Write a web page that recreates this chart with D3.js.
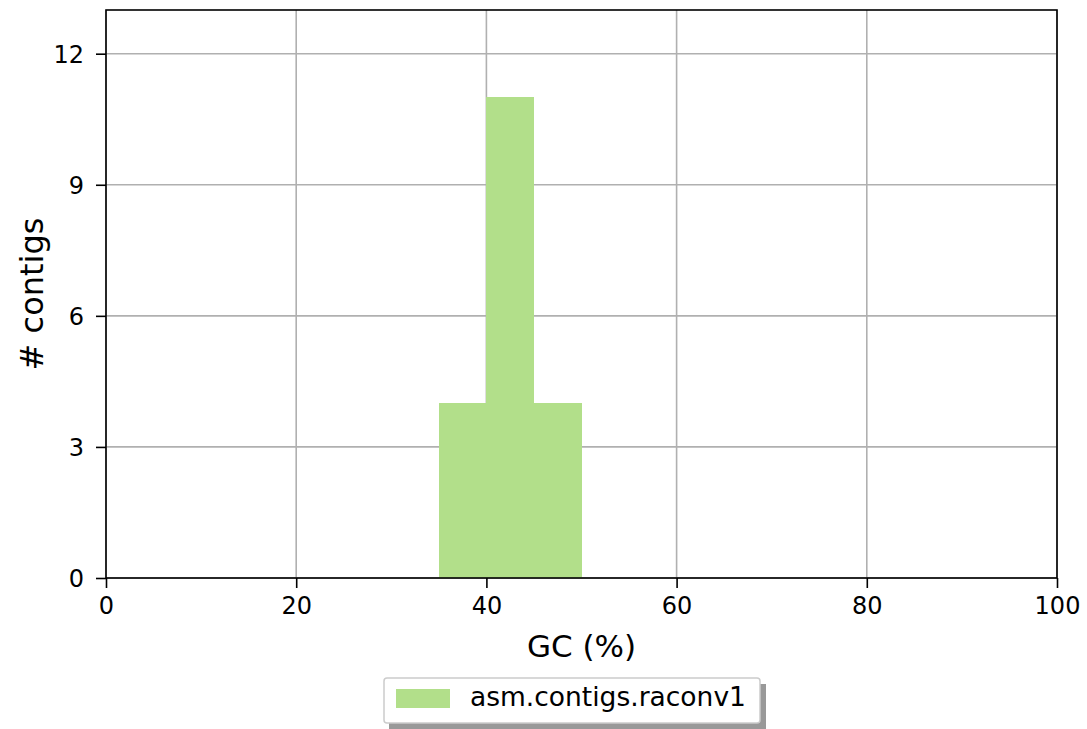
<!DOCTYPE html>
<html><head><meta charset="utf-8">
<script src="https://cdn.jsdelivr.net/npm/d3@7"></script>
<style>body{margin:0;background:#fff}svg{display:block}text{font-family:"DejaVu Sans",sans-serif}</style>
</head><body><svg id="c" width="1087" height="729"></svg>
<script>
const binStarts = [35, 40, 45];
const binWidth = 5;
const counts = [4, 11, 4];
const xTicks = [0, 20, 40, 60, 80, 100];
const yTicks = [0, 3, 6, 9, 12];
const seriesName = "asm.contigs.raconv1";
const xLabel = "GC (%)";
const yLabel = "# contigs";

const svg = d3.select("#c");
const L = 106, R = 1057, T = 10, B = 578;
const x = d3.scaleLinear().domain([0, 100]).range([L, R]);
const y = d3.scaleLinear().domain([0, 13]).range([B, T]);

// grid
const g = svg.append("g");
g.selectAll(".gx").data(xTicks).join("line")
  .attr("x1", d => x(d)).attr("x2", d => x(d)).attr("y1", T).attr("y2", B)
  .attr("stroke", "#b0b0b0").attr("stroke-width", 1.6);
g.selectAll(".gy").data(yTicks).join("line")
  .attr("x1", L).attr("x2", R).attr("y1", d => y(d)).attr("y2", d => y(d))
  .attr("stroke", "#b0b0b0").attr("stroke-width", 1.6);

// bars
svg.append("g").selectAll("rect").data(binStarts).join("rect")
  .attr("x", d => x(d)).attr("width", d => x(d + binWidth) - x(d))
  .attr("y", (d, i) => y(counts[i])).attr("height", (d, i) => y(0) - y(counts[i]))
  .attr("fill", "#b2df8a").attr("shape-rendering", "crispEdges");

// axes
const xa = svg.append("g").attr("transform", `translate(0,${B})`)
  .call(d3.axisBottom(x).tickValues(xTicks).tickSize(10).tickPadding(6).tickFormat(d3.format("d")));
const ya = svg.append("g").attr("transform", `translate(${L},0)`)
  .call(d3.axisLeft(y).tickValues(yTicks).tickSize(10).tickPadding(12).tickFormat(d3.format("d")));
[xa, ya].forEach(a => {
  a.attr("font-size", null).attr("font-family", null);
  a.select(".domain").remove();
  a.selectAll(".tick line").attr("stroke", "#000").attr("stroke-width", 1.6);
  a.selectAll(".tick text").style("font-size", "24px").attr("fill", "#000").style("font-family", "DejaVu Sans");
});
xa.selectAll(".tick text").attr("dy", "0.85em");
ya.selectAll(".tick text").attr("dy", "0.36em");

// frame
svg.append("rect").attr("x", L).attr("y", T).attr("width", R - L).attr("height", B - T)
  .attr("fill", "none").attr("stroke", "#000").attr("stroke-width", 1.6);

// labels
svg.append("text").attr("x", (L + R) / 2).attr("y", 657).attr("text-anchor", "middle")
  .style("font-size", "31px").text(xLabel);
svg.append("text").attr("transform", `translate(43,${(T + B) / 2}) rotate(-90)`)
  .attr("text-anchor", "middle").style("font-size", "32px").text(yLabel);

// legend
const lg = svg.append("g");
lg.append("rect").attr("x", 389).attr("y", 684).attr("width", 377).attr("height", 45).attr("fill", "#999");
lg.append("rect").attr("x", 384).attr("y", 678).attr("width", 376).attr("height", 45).attr("rx", 3)
  .attr("fill", "#fff").attr("stroke", "#ccc").attr("stroke-width", 1.5);
lg.append("rect").attr("x", 396).attr("y", 689).attr("width", 54).attr("height", 19).attr("fill", "#b2df8a");
lg.append("text").attr("x", 470).attr("y", 706).style("font-size", "26.5px").text(seriesName);
</script></body></html>
